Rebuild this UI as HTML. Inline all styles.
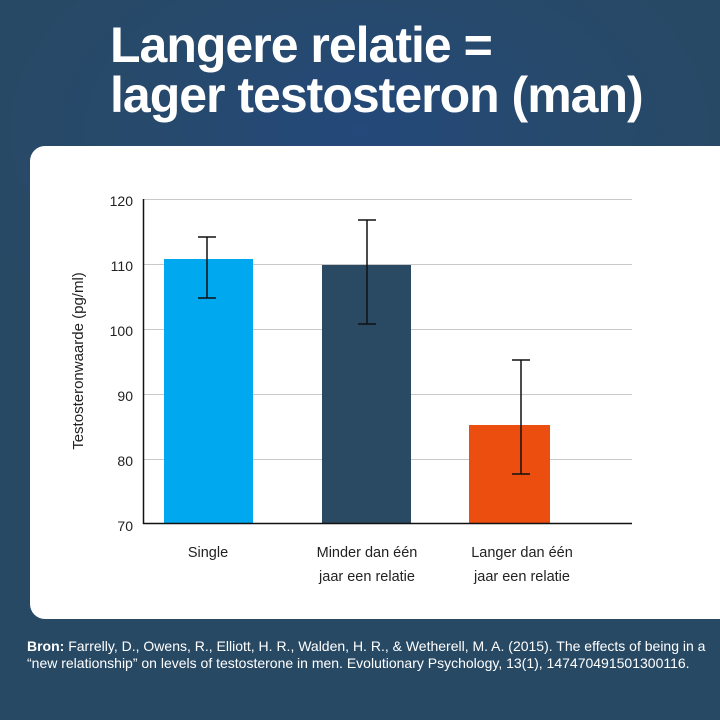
<!DOCTYPE html>
<html><head><meta charset="utf-8"><style>
body{margin:0;width:720px;height:720px;overflow:hidden;font-family:"Liberation Sans",sans-serif;
background:radial-gradient(ellipse 420px 260px at 360px 130px,#24497a 0%,#27496b 55%,#284964 100%);position:relative}
.t{position:absolute;left:110px;color:#fff;font-weight:bold;font-size:50px;letter-spacing:-1px;transform-origin:0 0;white-space:nowrap;line-height:1}
.card{position:absolute;left:30px;top:146px;width:720px;height:473px;background:#fff;border-radius:15px}
.f{position:absolute;left:27px;top:638px;color:#fff;font-size:14px;line-height:17px;width:700px;white-space:nowrap}
</style></head><body>
<div class="t" style="top:20px">Langere relatie =</div>
<div class="t" style="top:70px">lager testosteron (man)</div>
<div class="card"></div>
<svg width="720" height="720" style="position:absolute;left:0;top:0" font-family="Liberation Sans, sans-serif">
<g stroke="#c8c8c8" stroke-width="1">
<line x1="143" x2="632" y1="199.5" y2="199.5"/><line x1="143" x2="632" y1="264.5" y2="264.5"/>
<line x1="143" x2="632" y1="329.5" y2="329.5"/><line x1="143" x2="632" y1="394.5" y2="394.5"/>
<line x1="143" x2="632" y1="459.5" y2="459.5"/></g>
<rect x="164" y="259" width="89" height="264" fill="#00a8f0"/>
<rect x="322" y="265" width="89" height="258" fill="#294a62"/>
<rect x="469" y="425" width="81" height="98" fill="#ec4e10"/>
<g stroke="#111" stroke-width="1.5" fill="none">
<path d="M207 237V298M198 237H216M198 298H216"/>
<path d="M367 220V324M358 220H376M358 324H376"/>
<path d="M521 360V474M512 360H530M512 474H530"/>
</g>
<path d="M143.5 199V523.5H632" stroke="#111" stroke-width="1.5" fill="none"/>
<g font-size="14" fill="#222" text-anchor="end">
<text x="133" y="206">120</text><text x="133" y="271">110</text><text x="133" y="336">100</text>
<text x="133" y="401">90</text><text x="133" y="466">80</text><text x="133" y="531">70</text></g>
<text transform="translate(83 361) rotate(-90)" text-anchor="middle" font-size="15" fill="#222">Testosteronwaarde (pg/ml)</text>
<g font-size="14.5" fill="#222" text-anchor="middle">
<text x="208" y="557">Single</text>
<text x="367" y="557">Minder dan één</text><text x="367" y="581">jaar een relatie</text>
<text x="522" y="557">Langer dan één</text><text x="522" y="581">jaar een relatie</text></g>
</svg>
<div class="f"><b>Bron:</b> Farrelly, D., Owens, R., Elliott, H. R., Walden, H. R., &amp; Wetherell, M. A. (2015). The effects of being in a<br>“new relationship” on levels of testosterone in men. Evolutionary Psychology, 13(1), 147470491501300116.</div>
</body></html>
